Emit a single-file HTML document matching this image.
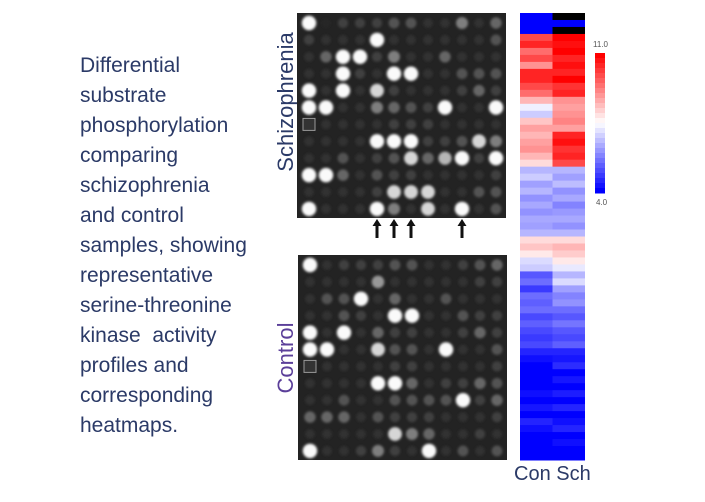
<!DOCTYPE html>
<html><head><meta charset="utf-8"><style>
body{margin:0;background:#fff;width:705px;height:502px;overflow:hidden;position:relative;font-family:"Liberation Sans",sans-serif}
#desc{position:absolute;left:80px;top:51px;font-size:21px;line-height:30px;color:#2b3a67}
.vl{position:absolute;font-size:21px;transform:rotate(-90deg);transform-origin:center;white-space:nowrap}
</style></head><body>
<div id="desc">Differential<br>substrate<br>phosphorylation<br>comparing<br>schizophrenia<br>and control<br>samples, showing<br>representative<br>serine-threonine<br>kinase&nbsp; activity<br>profiles and<br>corresponding<br>heatmaps.</div>
<div class="vl" style="left:216px;top:89px;width:140px;text-align:center;color:#2b3a67;font-size:22px">Schizophrenia</div>
<div class="vl" style="left:246px;top:345px;width:80px;text-align:center;color:#5b3f99;font-size:22px">Control</div>
<div style="position:absolute;left:514px;top:463px;font-size:20px;color:#2b3a67">Con Sch</div>
<div style="position:absolute;left:593px;top:40px;font-size:8px;color:#555">11.0</div>
<div style="position:absolute;left:596px;top:198px;font-size:8px;color:#555">4.0</div>
<svg id="svg" width="705" height="502" style="position:absolute;left:0;top:0">
<defs><filter id="bl" x="-50%" y="-50%" width="200%" height="200%"><feGaussianBlur stdDeviation="1.3"/></filter></defs>
</svg>
<script>
const schizSpots=[
[9,0,2,2,2,3,3,1,1,5,1,4],
[2,1,1,1,9,1,1,1,1,1,1,3],
[1,4,9,9,2,5,1,1,4,1,1,1],
[1,1,9,2,1,9,9,1,1,3,3,3],
[9,1,9,1,8,2,1,1,1,2,4,2],
[9,9,1,1,5,4,3,2,9,1,1,9],
[0,1,1,1,1,2,2,2,1,1,1,1],
[1,1,1,1,9,9,9,2,2,3,8,5],
[1,1,3,1,2,3,8,4,7,9,2,9],
[9,9,4,1,3,2,2,1,1,1,1,2],
[1,1,1,1,2,8,8,8,1,1,3,3],
[9,1,1,1,9,5,1,8,1,9,1,3]];
const controlSpots=[
[9,1,2,2,2,3,3,1,1,2,3,4],
[1,1,1,1,6,1,1,1,1,1,2,2],
[1,3,3,9,1,4,1,1,3,1,1,1],
[1,1,3,2,1,9,9,1,1,3,2,2],
[9,1,9,1,4,2,2,1,1,2,4,2],
[9,9,1,1,8,3,3,1,9,1,1,3],
[0,1,1,1,1,2,2,1,1,1,1,2],
[1,1,1,1,9,9,4,1,2,2,4,3],
[1,1,3,1,1,3,3,3,3,9,2,4],
[4,4,4,1,3,2,2,2,1,1,1,2],
[1,1,1,1,1,8,5,4,1,1,2,1],
[9,1,1,2,5,2,1,9,1,3,1,3]];
const conValues=[4,4,4,10,10.5,9.5,10,9,10.5,10.5,10,9.5,8.5,7.3,6.8,8.3,8.8,8.5,8.8,9,8.5,8,6.5,6.8,6.2,6.5,6,6.3,6,6.3,6.2,6.5,8,8.3,7.8,7,6.8,5.2,5.5,4.8,5.5,5.3,5.5,5,5.3,5,4.8,5,4.5,4.2,4,4,4,4,4.2,4,4.3,4,4.5,4.2,4,4,4,4];
const schValues=[null,4,null,11,10.8,11,10.5,10.8,10.5,11,10.3,10.5,9,8.8,9,9.2,8.8,10.5,10.8,10.3,10.5,10,6.5,6.2,6.6,6,6.3,5.8,6.1,6.3,6,6.5,8,8.5,8.2,7.8,7.2,6.5,7,6.2,5.8,6,5.5,5.2,5.6,5.2,5,5.3,4.5,4.3,4.6,4,4.3,4,4.4,4,4.5,4,4.2,4.5,4,4.2,4,4];
const arrowCols=[4,5,6,9];
const vMin=4,vMax=11;
const svg=document.getElementById('svg');const NS='http://www.w3.org/2000/svg';
function mk(t,a){const e=document.createElementNS(NS,t);for(const k in a)e.setAttribute(k,a[k]);svg.appendChild(e);return e;}
function colX(c,x0){return x0+12+c*17;}
function rowY(r,y0){return y0+10+r*16.9;}
function drawArray(data,x0,y0,nm){
 const bg=mk('rect',{x:x0,y:y0,width:209,height:205,fill:'#232323'});
 
 
 data.forEach((row,r)=>row.forEach((v,c)=>{
  if(r===6&&c===0){const b=mk('rect',{x:colX(c,x0)-6,y:rowY(r,y0)-6,width:12,height:12,fill:'#333',stroke:'#999','stroke-width':1});
   
   return;}
  const g=Math.round(Math.min(255,38+v*10+v*v*1.5));
  const e=mk('circle',{cx:colX(c,x0),cy:rowY(r,y0),r:4.5+v*0.3,fill:`rgb(${g},${g},${g})`,filter:'url(#bl)'});
  
  
 }));
}
drawArray(schizSpots,297,13,'schizophrenia');
drawArray(controlSpots,298,255,'control');
arrowCols.forEach(c=>{const x=colX(c,297);
 const a=mk('path',{d:`M${x-1.5},238 V226 H${x-4.5} L${x},219 L${x+4.5},226 H${x+1.5} V238 Z`,fill:'#111'});
 
 });
function col(v){if(v===null)return '#000';let t=(v-vMin)/(vMax-vMin);t=Math.max(0,Math.min(1,t));
 if(t<0.5){const k=Math.round(255*t*2);return `rgb(${k},${k},255)`;}const k=Math.round(255*(1-t)*2);return `rgb(255,${k},${k})`;}
const hx=520,hy=13,hh=447,rh=hh/conValues.length;
[[conValues,520,'con'],[schValues,552.5,'sch']].forEach(([vals,x,nm])=>vals.forEach((v,i)=>{
 const e=mk('rect',{x:x,y:hy+i*rh,width:32.5,height:rh+0.5,fill:col(v)});
 
 }));
for(let i=0;i<28;i++){const v=vMax-(vMax-vMin)*i/27;
 const e=mk('rect',{x:595,y:53+i*5,width:10,height:5.5,fill:col(v)});
 
 }
</script>
</body></html>
